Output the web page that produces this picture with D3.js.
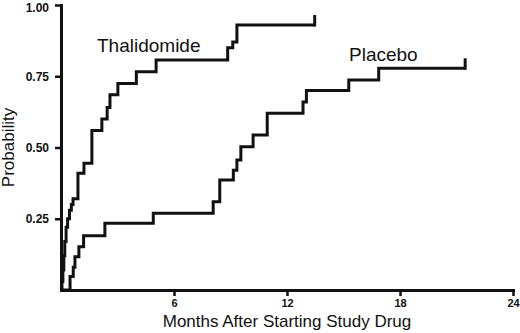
<!DOCTYPE html>
<html>
<head>
<meta charset="utf-8">
<script src="https://cdn.jsdelivr.net/npm/d3@7"></script>
<style>
  body { margin: 0; background: #fff; }
  text { font-family: "Liberation Sans", Arial, sans-serif; fill: #111; }
</style>
</head>
<body>
<div id="chart"></div>
<script>
// Kaplan-Meier style cumulative probability
const thalTimes = [0, 0.05, 0.1, 0.15, 0.2, 0.27, 0.35, 0.45, 0.55, 0.64, 0.9, 1.22, 1.64, 2.17, 2.45, 2.6, 3.02, 4.0, 5.05, 8.85, 9.12, 9.34, 13.47];
const thalProb  = [0, 0.03, 0.07, 0.12, 0.17, 0.22, 0.25, 0.28, 0.3, 0.32, 0.41, 0.445, 0.56, 0.6, 0.64, 0.685, 0.725, 0.766, 0.807, 0.85, 0.87, 0.93, 0.93];

const placTimes = [0, 0.39, 0.48, 0.65, 0.74, 0.95, 1.2, 2.33, 4.9, 8.08, 8.43, 9.15, 9.34, 9.55, 10.2, 10.95, 12.85, 13.03, 15.28, 16.87, 21.46];
const placProb  = [0, 0, 0.047, 0.08, 0.117, 0.152, 0.19, 0.234, 0.269, 0.31, 0.386, 0.42, 0.456, 0.503, 0.544, 0.62, 0.66, 0.70, 0.737, 0.778, 0.778];

const xTicks = [6, 12, 18, 24];
const yTicks = [0.25, 0.5, 0.75, 1.0];
const censorRise = 0.035;

const width = 520, height = 333;
const margin = { left: 61, right: 7, top: 5, bottom: 43 };

const svg = d3.select("#chart").append("svg")
  .attr("width", width)
  .attr("height", height);

const x = d3.scaleLinear().domain([0, 24]).range([margin.left, width - margin.right]);
const y = d3.scaleLinear().domain([0, 1]).range([height - margin.bottom, margin.top]);

const xAxis = svg.append("g")
  .attr("transform", `translate(0,${y(0)})`)
  .call(d3.axisBottom(x).tickValues(xTicks).tickSize(6).tickSizeOuter(0).tickPadding(3));

const yAxis = svg.append("g")
  .attr("transform", `translate(${x(0)},0)`)
  .call(d3.axisLeft(y).tickValues(yTicks).tickFormat(d3.format(".2f")).tickSize(6).tickSizeOuter(0).tickPadding(6));

[xAxis, yAxis].forEach(g => {
  g.select(".domain").attr("stroke", "#111").attr("stroke-width", 3).attr("stroke-linecap", "square");
  g.selectAll(".tick line").attr("stroke", "#111").attr("stroke-width", 2.5);
  g.selectAll(".tick text")
    .style("font-family", "'Liberation Sans', Arial, sans-serif")
    .style("font-weight", "bold")
    .attr("fill", "#111");
});
xAxis.selectAll(".tick text").style("font-size", "11px");
yAxis.selectAll(".tick text").style("font-size", "12px");
// keep the top label inside the picture
yAxis.selectAll(".tick text").filter(d => d === 1).attr("dy", "0.5em");

const line = d3.line()
  .x(d => x(d[0]))
  .y(d => y(d[1]))
  .curve(d3.curveStepAfter);

function drawCurve(times, probs) {
  const pts = times.map((t, i) => [t, probs[i]]);
  svg.append("path")
    .datum(pts)
    .attr("d", line)
    .attr("fill", "none")
    .attr("stroke", "#111")
    .attr("stroke-width", 3)
    .attr("stroke-linejoin", "miter");
  const last = pts[pts.length - 1];
  svg.append("line")
    .attr("x1", x(last[0])).attr("x2", x(last[0]))
    .attr("y1", y(last[1]) + 1.5).attr("y2", y(last[1] + censorRise))
    .attr("stroke", "#111")
    .attr("stroke-width", 3);
}

drawCurve(thalTimes, thalProb);
drawCurve(placTimes, placProb);

svg.append("text")
  .attr("x", 97).attr("y", 52)
  .style("font-size", "19px")
  .text("Thalidomide");

svg.append("text")
  .attr("x", 349).attr("y", 61)
  .style("font-size", "19px")
  .text("Placebo");

svg.append("text")
  .attr("x", x(12)).attr("y", 327)
  .attr("text-anchor", "middle")
  .style("font-size", "17px")
  .text("Months After Starting Study Drug");

svg.append("text")
  .attr("transform", `translate(14,${y(0.5)}) rotate(-90)`)
  .attr("text-anchor", "middle")
  .style("font-size", "17px")
  .text("Probability");
</script>
</body>
</html>
